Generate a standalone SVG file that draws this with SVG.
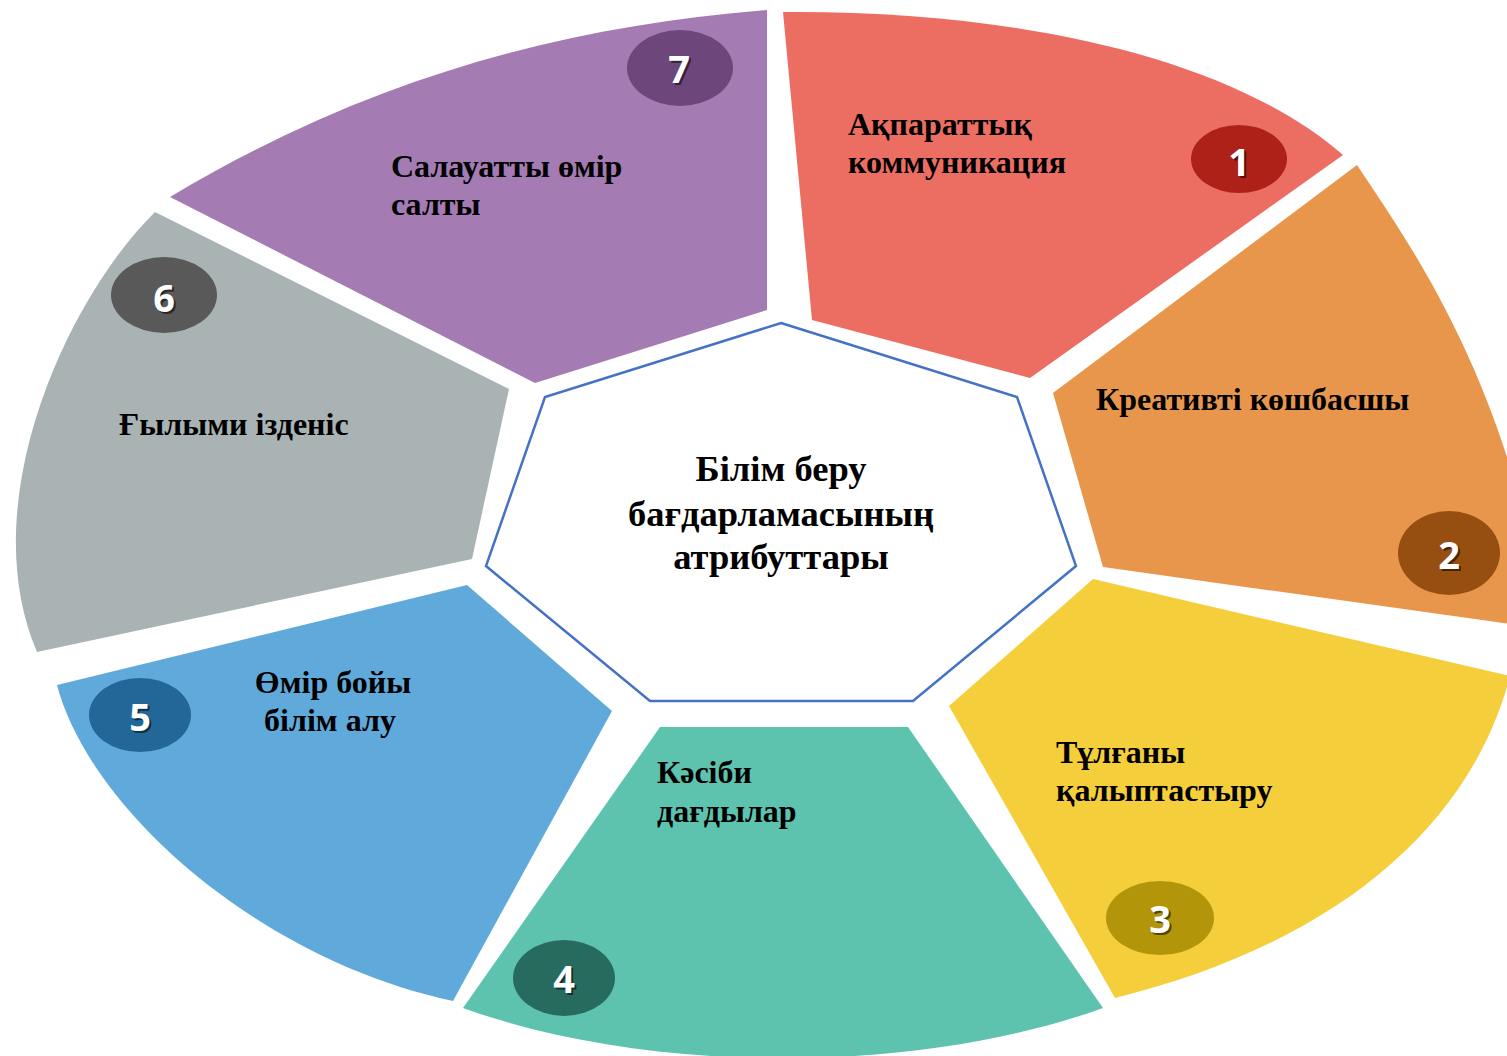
<svg xmlns="http://www.w3.org/2000/svg" width="1507" height="1056" viewBox="0 0 1507 1056">
<style>
.lbl{font-family:"Liberation Serif","DejaVu Serif",serif;font-weight:bold;font-size:32px;fill:#000}
.ctr{font-family:"Liberation Serif","DejaVu Serif",serif;font-weight:bold;font-size:36.5px;fill:#000;text-anchor:middle}
.num{font-family:"Open Sans","Liberation Sans",sans-serif;font-weight:bold;font-size:38px;fill:#fff;text-anchor:middle}
.sh{font-family:"Open Sans","Liberation Sans",sans-serif;font-weight:bold;font-size:38px;fill:#000;fill-opacity:0.55;text-anchor:middle}
</style>
<rect width="1507" height="1056" fill="#fff"/>
<g id="connectors"/>
<g id="seg1">
<path d="M783 12 C1000 10 1225 52 1343 155 L1030 378 L812 320 Z" fill="#EC6E63"/>
<text class="lbl" x="848" y="135">Ақпараттық</text>
<text class="lbl" x="848" y="173">коммуникация</text>
<ellipse cx="1239" cy="159" rx="48" ry="34" fill="#AE2118"/>
<text class="sh" x="1241" y="178">1</text>
<text class="num" x="1239" y="176">1</text>
</g>
<g id="seg2">
<path d="M1357 165 C1400 230 1480 340 1525 520 L1525 626 L1103 567 L1053 393 Z" fill="#E9964D"/>
<text class="lbl" x="1096" y="410">Креативті көшбасшы</text>
<ellipse cx="1449" cy="553" rx="51" ry="42" fill="#964F10"/>
<text class="sh" x="1451" y="571">2</text>
<text class="num" x="1449" y="569">2</text>
</g>
<g id="seg3">
<path d="M1093 579 L1510 676 C1470 830 1330 945 1115 998 L949 706 Z" fill="#F4CE3B"/>
<text class="lbl" x="1056" y="763">Тұлғаны</text>
<text class="lbl" x="1056" y="801">қалыптастыру</text>
<ellipse cx="1160" cy="918" rx="54" ry="37" fill="#B3950A"/>
<text class="sh" x="1162" y="935">3</text>
<text class="num" x="1160" y="933">3</text>
</g>
<g id="seg4">
<path d="M660 727 L908 727 L1103 1008 C916 1075 650 1075 463 1008 Z" fill="#5DC3AF"/>
<text class="lbl" x="657" y="783">Кәсіби</text>
<text class="lbl" x="657" y="822">дағдылар</text>
<ellipse cx="564" cy="978" rx="51" ry="38" fill="#276B5E"/>
<text class="sh" x="566" y="995">4</text>
<text class="num" x="564" y="993">4</text>
</g>
<g id="seg5">
<path d="M57 685 L467 585 L612 711 L453 1001 C260 960 90 810 57 685 Z" fill="#60AADB"/>
<text class="lbl" x="333" y="693" text-anchor="middle">Өмір бойы</text>
<text class="lbl" x="330" y="731" text-anchor="middle">білім алу</text>
<ellipse cx="140" cy="715" rx="51" ry="37" fill="#226797"/>
<text class="sh" x="142" y="733">5</text>
<text class="num" x="140" y="731">5</text>
</g>
<g id="seg6">
<path d="M155 212 L509 389 L472 559 L37 652 C-28 500 70 295 155 212 Z" fill="#A9B3B4"/>
<text class="lbl" x="119" y="435">Ғылыми ізденіс</text>
<ellipse cx="164" cy="295" rx="53" ry="38" fill="#595959"/>
<text class="sh" x="166" y="314">6</text>
<text class="num" x="164" y="312">6</text>
</g>
<g id="seg7">
<path d="M170 197 C370 77 567 26 767 10 L767 310 L535 383 Z" fill="#A47BB3"/>
<text class="lbl" x="391" y="177">Салауатты өмір</text>
<text class="lbl" x="391" y="215">салты</text>
<ellipse cx="680" cy="68" rx="53" ry="38" fill="#6D467C"/>
<text class="sh" x="681" y="85">7</text>
<text class="num" x="679" y="83">7</text>
</g>
<g id="center">
<polygon points="781,323 1017,397 1076,566 913,701 650,701 486,566 545,397" fill="#fff" stroke="#4472C4" stroke-width="2.5"/>
<text class="ctr" x="781" y="481">Білім беру</text>
<text class="ctr" x="781" y="526">бағдарламасының</text>
<text class="ctr" x="781" y="569">атрибуттары</text>
</g>
</svg>
